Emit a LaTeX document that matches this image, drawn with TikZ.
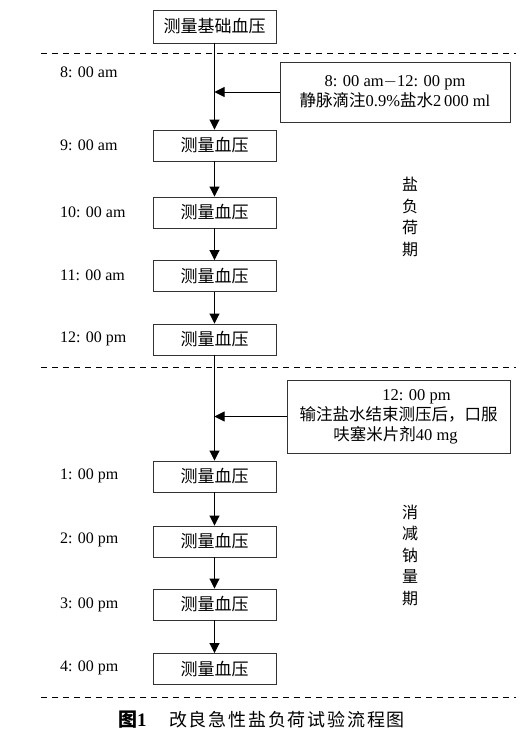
\documentclass[tikz,border=0pt]{standalone}
\usepackage{fontspec}
\setmainfont{Liberation Serif}
\newfontfamily\cjk{Noto Sans CJK SC}
\newfontfamily\cjkwide[LetterSpace=10]{Noto Sans CJK SC}
\usetikzlibrary{arrows.meta}
\begin{document}
\begin{tikzpicture}[x=1pt,y=-1pt,
  box/.style={draw=black!80, line width=0.9pt, minimum width=123pt, minimum height=31pt, inner sep=0pt, font=\cjk\fontsize{17}{20}\selectfont},
  notebox/.style={draw=black!80, line width=0.9pt, inner sep=0pt, align=center, font=\fontsize{16.5}{20}\selectfont},
  timelab/.style={anchor=west, inner sep=0pt, font=\fontsize{16}{18}\selectfont},
  phase/.style={inner sep=0pt, align=center, font=\cjk\fontsize{16}{21.5}\selectfont},
  sep/.style={line width=0.9pt, dash pattern=on 6pt off 5pt},
  arr/.style={line width=0.9pt, -{Triangle[length=10pt,width=10pt]}},
  ln/.style={line width=0.9pt}]
\useasboundingbox (0,0) rectangle (531,744);

% boxes
\node[box, minimum height=33pt] (b0) at (214.5,26.5) {测量基础血压};
\node[box] (b9) at (214.5,145.5) {测量血压};
\node[box] (b10) at (214.5,212.5) {测量血压};
\node[box] (b11) at (214.5,276) {测量血压};
\node[box] (b12) at (214.5,339.5) {测量血压};
\node[box] (b13) at (214.5,476.5) {测量血压};
\node[box] (b14) at (214.5,541.5) {测量血压};
\node[box] (b15) at (214.5,604.5) {测量血压};
\node[box] (b16) at (214.5,669) {测量血压};

% side notes
\node[notebox, minimum width=230pt, minimum height=60pt] (r1) at (395,92)
  {8: 00 am$-$12: 00 pm\\{\cjk 静脉滴注}0.9\%{\cjk 盐水}2\,000 ml};
\node[notebox, minimum width=223pt, minimum height=73pt] (r2) at (398.5,416.5)
  {\hspace*{36pt}12: 00 pm\\{\cjk 输注盐水结束测压后，口服}\\{\cjk 呋塞米片剂}40 mg\hspace*{6pt}};

\coordinate (j1) at (214.5,92);
\coordinate (j2) at (214.5,416.5);

% connectors
\draw[arr] (b0.south) -- (b9.north);
\draw[arr] (r1.west) -- (j1);
\draw[arr] (b9.south) -- (b10.north);
\draw[arr] (b10.south) -- (b11.north);
\draw[arr] (b11.south) -- (b12.north);
\draw[arr] (b12.south) -- (b13.north);
\draw[arr] (r2.west) -- (j2);
\draw[arr] (b13.south) -- (b14.north);
\draw[arr] (b14.south) -- (b15.north);
\draw[arr] (b15.south) -- (b16.north);

% separators
\coordinate (s1a) at (41,53); \coordinate (s1b) at (516,53);
\coordinate (s2a) at (41,367); \coordinate (s2b) at (516,367);
\coordinate (s3a) at (41,697); \coordinate (s3b) at (516,697);
\draw[sep] (s1a) -- (s1b);
\draw[sep] (s2a) -- (s2b);
\draw[sep] (s3a) -- (s3b);

% time labels
\node[timelab] (t8) at (60,72) {8: 00 am};
\node[timelab] (t9) at (60,145) {9: 00 am};
\node[timelab] (t10) at (60,212) {10: 00 am};
\node[timelab] (t11) at (60,275) {11: 00 am};
\node[timelab] (t12) at (60,339) {12: 00 pm};
\node[timelab] (t13) at (60,476) {1: 00 pm};
\node[timelab] (t14) at (60,540) {2: 00 pm};
\node[timelab] (t15) at (60,605) {3: 00 pm};
\node[timelab] (t16) at (60,668) {4: 00 pm};

% phase labels
\node[phase] (p1) at (410,217) {盐\\负\\荷\\期};
\node[phase] (p2) at (410,555) {消\\减\\钠\\量\\期};

% caption
\node[inner sep=0pt, anchor=west, font=\fontsize{19}{20}\selectfont] (capa) at (118,720)
  {{\cjk\bfseries 图}\textbf{1}};
\node[inner sep=0pt, anchor=west, font=\cjkwide\fontsize{18}{20}\selectfont] (capb) at (169,720)
  {改良急性盐负荷试验流程图};
\end{tikzpicture}
\end{document}
